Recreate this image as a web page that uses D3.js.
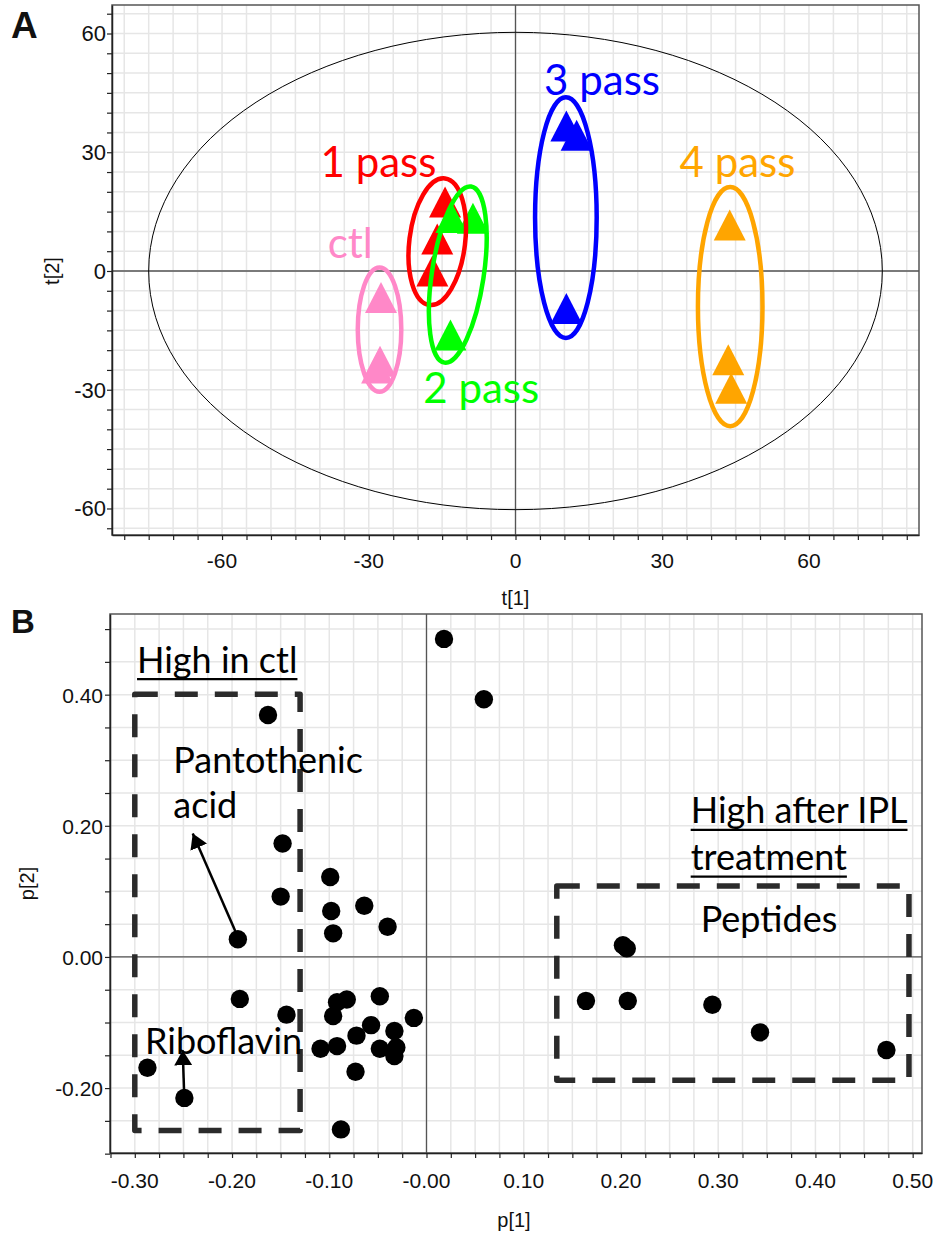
<!DOCTYPE html>
<html>
<head>
<meta charset="utf-8">
<script src="https://cdn.jsdelivr.net/npm/d3@7"></script>
<style>
  body { margin: 0; background: #fff; }
  svg { display: block; }
</style>
</head>
<body>
<svg id="chart" width="938" height="1236"></svg>
<script>
// ---- panel A: scores t[1] / t[2] ----
const groupNames = ["ctl", "1 pass", "2 pass", "3 pass", "4 pass"];
const groupColors = ["#ff88c8", "#ff0000", "#00ff00", "#0000ff", "#ffa500"];
const t1 = [
  [-27.5, -27.7, -28.3],
  [-14.4, -16.0, -17.0],
  [-13.1, -8.7, -13.3],
  [10.4, 12.5, 10.4],
  [43.8, 43.5, 44.1]
];
const t2 = [
  [-6.7, -22.8, -24.5],
  [17.4, 8.1, 0.0],
  [13.5, 13.3, -16.2],
  [36.6, 34.3, -9.5],
  [11.6, -22.4, -29.6]
];
// hand drawn group outlines (centre, radii in t units, tilt in degrees)
const ellCx = [-27.8, -16.0, -11.8, 10.3, 43.9];
const ellCy = [-14.8, 7.4, -0.9, 13.5, -9.0];
const ellRx = [4.45, 5.7, 5.3, 6.3, 6.6];
const ellRy = [15.7, 16.1, 22.5, 30.4, 30.2];
const ellTilt = [0, 7, 8.6, 0, 0];
// group label anchors (middle of text, baseline)
const labelX = [-33.8, -28.0, -7.0, 17.7, 45.4];
const labelY = [3.2, 23.8, -33.4, 44.4, 23.8];
// Hotelling T2 ellipse
const t2Ellipse = [75, 60.3];
const tickLabelsA = [-60, -30, 0, 30, 60];

// ---- panel B: loadings p[1] / p[2] ----
const p1 = [0.018, 0.059, -0.163, -0.148, -0.099, -0.150, -0.098, -0.064, -0.040, -0.096,
  -0.194, -0.192, -0.144, -0.092, -0.082, -0.096, -0.048, -0.013, -0.057, -0.072,
  -0.033, -0.109, -0.092, -0.048, -0.031, -0.033, -0.073, -0.287, -0.249, -0.088,
  0.202, 0.206, 0.164, 0.207, 0.294, 0.343, 0.473];
const p2 = [0.485, 0.393, 0.369, 0.173, 0.122, 0.092, 0.070, 0.078, 0.046, 0.036,
  0.027, -0.064, -0.088, -0.069, -0.065, -0.090, -0.060, -0.093, -0.104, -0.120,
  -0.113, -0.140, -0.136, -0.140, -0.138, -0.151, -0.175, -0.169, -0.215, -0.263,
  0.018, 0.013, -0.067, -0.067, -0.073, -0.115, -0.142];
const xTicksB = [-0.3, -0.2, -0.1, 0, 0.1, 0.2, 0.3, 0.4, 0.5];
const xTickTextB = ["-0.30", "-0.20", "-0.10", "-0.00", "0.10", "0.20", "0.30", "0.40", "0.50"];
const yTicksB = [-0.2, 0, 0.2, 0.4];
const yTickTextB = ["-0.20", "0.00", "0.20", "0.40"];
// dashed boxes [x0, x1, y0, y1]
const boxes = [
  [-0.30, -0.130, -0.2646, 0.4006],
  [0.134, 0.4962, -0.188, 0.108]
];
// annotation text: [text, p1, p2, underline]
const notes = [
  ["High in ctl", -0.2977, 0.4336, true],
  ["Pantothenic", -0.2604, 0.280, false],
  ["acid", -0.2604, 0.2113, false],
  ["Riboflavin", -0.2895, -0.1486, false],
  ["High after IPL", 0.2717, 0.2037, true],
  ["treatment", 0.2717, 0.1324, true],
  ["Peptides", 0.282, 0.0382, false]
];
// arrows: [from p1, from p2, to p1, to p2]
const arrows = [
  [-0.1939, 0.030, -0.2404, 0.1884],
  [-0.2491, -0.2153, -0.2507, -0.1424]
];

const svg = d3.select("#chart");
svg.append("rect").attr("width", 938).attr("height", 1236).attr("fill", "#fff");

const gridColor = "#e6e6e6";
const frameColor = "#555";
const tickFont = "'Liberation Sans', Arial, sans-serif";
const noteFont = "Lato, 'Open Sans', sans-serif";

// ================= Panel A =================
const xA = d3.scaleLinear().domain([-82.5, 82.5]).range([112, 919]);
const yA = d3.scaleLinear().domain([-66.7, 67.2]).range([535, 5]);
const gA = svg.append("g");

gA.selectAll(".vgA").data(d3.range(-80, 81, 5)).join("line")
  .attr("x1", d => xA(d)).attr("x2", d => xA(d))
  .attr("y1", yA.range()[1]).attr("y2", yA.range()[0])
  .attr("stroke", gridColor).attr("stroke-width", 1.5);
gA.selectAll(".hgA").data(d3.range(-65, 66, 5)).join("line")
  .attr("y1", d => yA(d)).attr("y2", d => yA(d))
  .attr("x1", xA.range()[0]).attr("x2", xA.range()[1])
  .attr("stroke", gridColor).attr("stroke-width", 1.5);

// zero lines
gA.append("line").attr("x1", xA(0)).attr("x2", xA(0)).attr("y1", yA.range()[1]).attr("y2", yA.range()[0])
  .attr("stroke", frameColor).attr("stroke-width", 1.3);
gA.append("line").attr("y1", yA(0)).attr("y2", yA(0)).attr("x1", xA.range()[0]).attr("x2", xA.range()[1])
  .attr("stroke", frameColor).attr("stroke-width", 1.3);

// T2 ellipse
gA.append("ellipse")
  .attr("cx", xA(0)).attr("cy", yA(0))
  .attr("rx", xA(t2Ellipse[0]) - xA(0)).attr("ry", yA(0) - yA(t2Ellipse[1]))
  .attr("fill", "none").attr("stroke", "#000").attr("stroke-width", 1);

gA.append("rect")
  .attr("x", xA.range()[0]).attr("y", yA.range()[1])
  .attr("width", xA.range()[1] - xA.range()[0]).attr("height", yA.range()[0] - yA.range()[1])
  .attr("fill", "none").attr("stroke", frameColor).attr("stroke-width", 1.5);

const axA = gA.append("g").attr("transform", `translate(0,${yA.range()[0]})`)
  .call(d3.axisBottom(xA).tickValues(d3.range(-80, 81, 5)).tickSizeInner(5).tickSizeOuter(0).tickFormat(""));
const ayA = gA.append("g").attr("transform", `translate(${xA.range()[0]},0)`)
  .call(d3.axisLeft(yA).tickValues(d3.range(-65, 66, 5)).tickSizeInner(5).tickSizeOuter(0).tickFormat(""));
[axA, ayA].forEach(a => {
  a.select(".domain").attr("stroke", "#222").attr("stroke-width", 1.5);
  a.selectAll(".tick line").attr("stroke", "#222").attr("stroke-width", 1.2);
});

gA.selectAll(".xlA").data(tickLabelsA).join("text")
  .attr("x", d => xA(d)).attr("y", 568)
  .attr("text-anchor", "middle").attr("font-family", tickFont).attr("font-size", 21).attr("fill", "#111")
  .text(d => d);
gA.selectAll(".ylA").data(tickLabelsA).join("text")
  .attr("x", 106).attr("y", d => yA(d) + 8)
  .attr("text-anchor", "end").attr("font-family", tickFont).attr("font-size", 22).attr("fill", "#111")
  .text(d => d);

gA.append("text").attr("x", xA(0)).attr("y", 605).attr("text-anchor", "middle")
  .attr("font-family", tickFont).attr("font-size", 20).attr("fill", "#111").text("t[1]");
gA.append("text").attr("transform", `translate(59,${yA(0)}) rotate(-90)`).attr("text-anchor", "middle")
  .attr("font-family", tickFont).attr("font-size", 20).attr("fill", "#111").text("t[2]");

// triangles
const tri = "M0,-15.5L16,15.5L-16,15.5Z";
groupNames.forEach((name, gi) => {
  gA.selectAll(null).data(t1[gi].map((v, i) => [v, t2[gi][i]])).join("path")
    .attr("d", tri)
    .attr("transform", d => `translate(${xA(d[0])},${yA(d[1])})`)
    .attr("fill", groupColors[gi]);
});
// group outlines
const kx = xA(1) - xA(0), ky = yA(0) - yA(1);
gA.selectAll(".grp").data(groupNames).join("ellipse")
  .attr("transform", (d, i) => `translate(${xA(ellCx[i])},${yA(ellCy[i])}) rotate(${ellTilt[i]})`)
  .attr("rx", (d, i) => ellRx[i] * kx).attr("ry", (d, i) => ellRy[i] * ky)
  .attr("fill", "none").attr("stroke", (d, i) => groupColors[i]).attr("stroke-width", 4.5);
gA.selectAll(".glab").data(groupNames).join("text")
  .attr("x", (d, i) => xA(labelX[i])).attr("y", (d, i) => yA(labelY[i]))
  .attr("text-anchor", "middle").attr("font-family", noteFont).attr("font-size", 42)
  .attr("fill", (d, i) => groupColors[i]).text(d => d);

svg.append("text").attr("x", 11).attr("y", 38).attr("font-family", tickFont).attr("font-weight", "bold")
  .attr("font-size", 37).attr("fill", "#111").text("A");

// ================= Panel B =================
const xB = d3.scaleLinear().domain([-0.3255, 0.5096]).range([110, 922]);
const yB = d3.scaleLinear().domain([-0.299, 0.523]).range([1153, 614]);
const gB = svg.append("g");
const xMinorB = d3.range(-0.325, 0.5001, 0.025);
const yMinorB = d3.range(-0.3, 0.5001, 0.05);

gB.selectAll(".vgB").data(xMinorB).join("line")
  .attr("x1", d => xB(d)).attr("x2", d => xB(d))
  .attr("y1", yB.range()[1]).attr("y2", yB.range()[0])
  .attr("stroke", gridColor).attr("stroke-width", 1.5);
gB.selectAll(".hgB").data(yMinorB).join("line")
  .attr("y1", d => yB(d)).attr("y2", d => yB(d))
  .attr("x1", xB.range()[0]).attr("x2", xB.range()[1])
  .attr("stroke", gridColor).attr("stroke-width", 1.5);
gB.append("line").attr("x1", xB(0)).attr("x2", xB(0)).attr("y1", yB.range()[1]).attr("y2", yB.range()[0])
  .attr("stroke", frameColor).attr("stroke-width", 1.3);
gB.append("line").attr("y1", yB(0)).attr("y2", yB(0)).attr("x1", xB.range()[0]).attr("x2", xB.range()[1])
  .attr("stroke", frameColor).attr("stroke-width", 1.3);
gB.append("rect")
  .attr("x", xB.range()[0]).attr("y", yB.range()[1])
  .attr("width", xB.range()[1] - xB.range()[0]).attr("height", yB.range()[0] - yB.range()[1])
  .attr("fill", "none").attr("stroke", frameColor).attr("stroke-width", 1.5);

const axB = gB.append("g").attr("transform", `translate(0,${yB.range()[0]})`)
  .call(d3.axisBottom(xB).tickValues(xMinorB).tickSizeInner(5).tickSizeOuter(0).tickFormat(""));
const ayB = gB.append("g").attr("transform", `translate(${xB.range()[0]},0)`)
  .call(d3.axisLeft(yB).tickValues(yMinorB).tickSizeInner(5).tickSizeOuter(0).tickFormat(""));
[axB, ayB].forEach(a => {
  a.select(".domain").attr("stroke", "#222").attr("stroke-width", 1.5);
  a.selectAll(".tick line").attr("stroke", "#222").attr("stroke-width", 1.2);
});
gB.selectAll(".xlB").data(xTicksB).join("text")
  .attr("x", d => xB(d)).attr("y", 1188)
  .attr("text-anchor", "middle").attr("font-family", tickFont).attr("font-size", 21).attr("fill", "#111")
  .text((d, i) => xTickTextB[i]);
gB.selectAll(".ylB").data(yTicksB).join("text")
  .attr("x", 103).attr("y", d => yB(d) + 8)
  .attr("text-anchor", "end").attr("font-family", tickFont).attr("font-size", 21).attr("fill", "#111")
  .text((d, i) => yTickTextB[i]);
gB.append("text").attr("x", xB(0.09)).attr("y", 1227).attr("text-anchor", "middle")
  .attr("font-family", tickFont).attr("font-size", 20).attr("fill", "#111").text("p[1]");
gB.append("text").attr("transform", `translate(34,${(yB.range()[0] + yB.range()[1]) / 2}) rotate(-90)`)
  .attr("text-anchor", "middle").attr("font-family", tickFont).attr("font-size", 20).attr("fill", "#111").text("p[2]");

// dashed boxes
gB.selectAll(".box").data(boxes).join("rect")
  .attr("x", d => xB(d[0])).attr("y", d => yB(d[3]))
  .attr("width", d => xB(d[1]) - xB(d[0])).attr("height", d => yB(d[2]) - yB(d[3]))
  .attr("fill", "none").attr("stroke", "#2b2b2b").attr("stroke-width", 5.5)
  .attr("stroke-dasharray", "23,17").attr("stroke-linejoin", "round");

// points
gB.selectAll(".pt").data(p1.map((v, i) => [v, p2[i]])).join("circle")
  .attr("cx", d => xB(d[0])).attr("cy", d => yB(d[1])).attr("r", 9.2).attr("fill", "#000");

// arrows
const defs = svg.append("defs");
defs.append("marker").attr("id", "head").attr("markerUnits", "userSpaceOnUse")
  .attr("viewBox", "0 0 15 18").attr("markerWidth", 15).attr("markerHeight", 18)
  .attr("refX", 15).attr("refY", 9).attr("orient", "auto")
  .append("path").attr("d", "M0,0L15,9L0,18Z").attr("fill", "#000");
gB.selectAll(".arr").data(arrows).join("line")
  .attr("x1", d => xB(d[0])).attr("y1", d => yB(d[1]))
  .attr("x2", d => xB(d[2])).attr("y2", d => yB(d[3]))
  .attr("stroke", "#000").attr("stroke-width", 2.5).attr("marker-end", "url(#head)");

// notes
notes.forEach(n => {
  const t = gB.append("text").attr("x", xB(n[1])).attr("y", yB(n[2]))
    .attr("font-family", noteFont).attr("font-size", 36).attr("fill", "#000").text(n[0]);
  if (n[3]) {
    const w = t.node().getComputedTextLength();
    gB.append("line").attr("x1", xB(n[1])).attr("x2", xB(n[1]) + w)
      .attr("y1", yB(n[2]) + 6.5).attr("y2", yB(n[2]) + 6.5)
      .attr("stroke", "#000").attr("stroke-width", 2.2);
  }
});

svg.append("text").attr("x", 11).attr("y", 633).attr("font-family", tickFont).attr("font-weight", "bold")
  .attr("font-size", 33).attr("fill", "#111").text("B");
</script>
</body>
</html>
